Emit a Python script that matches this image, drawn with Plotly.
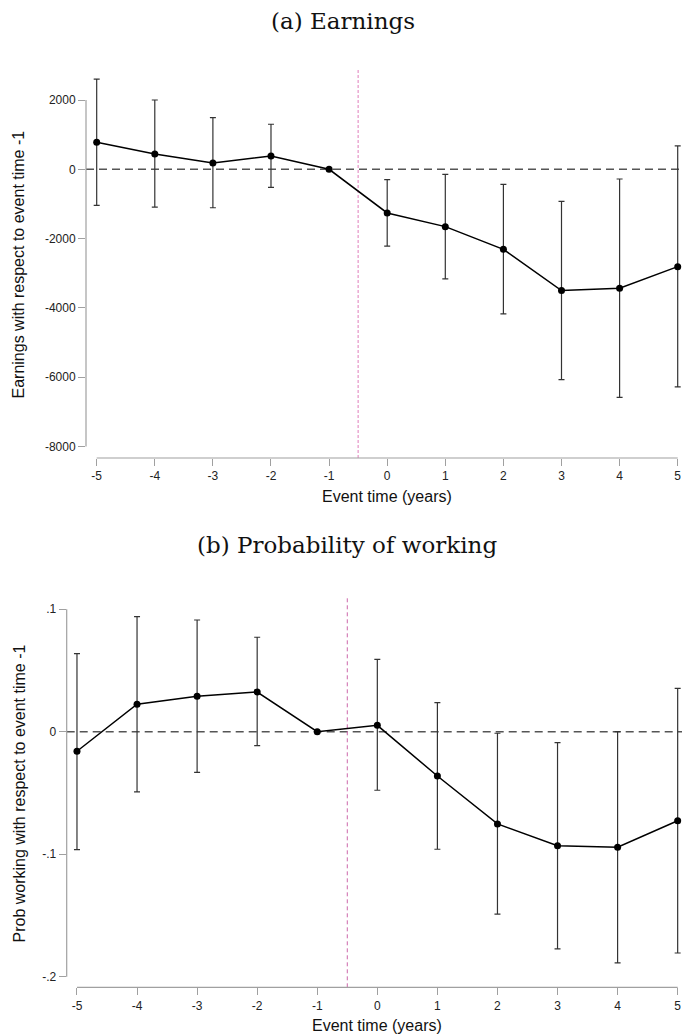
import plotly.graph_objects as go

# ---------------- data ----------------
event_time = [-5, -4, -3, -2, -1, 0, 1, 2, 3, 4, 5]

earn_coef = [780, 440, 180, 385, 0, -1260, -1655, -2310, -3500, -3435, -2810]
earn_hi = [2600, 2000, 1490, 1300, None, -300, -145, -435, -925, -280, 675]
earn_lo = [-1040, -1090, -1110, -520, None, -2215, -3165, -4175, -6070, -6580, -6280]

work_coef = [-0.016, 0.0224, 0.0289, 0.0324, 0.0, 0.0052, -0.0362, -0.0753, -0.0931, -0.0944, -0.0727]
work_hi = [0.0637, 0.0939, 0.0912, 0.0771, None, 0.0591, 0.0237, -0.0013, -0.009, 0.0, 0.0354]
work_lo = [-0.0963, -0.0492, -0.0332, -0.0114, None, -0.0478, -0.096, -0.149, -0.1774, -0.1888, -0.1807]

x_ticks = [-5, -4, -3, -2, -1, 0, 1, 2, 3, 4, 5]
x_ticktext = ["-5", "-4", "-3", "-2", "-1", "0", "1", "2", "3", "4", "5"]
earn_ticks = [-8000, -6000, -4000, -2000, 0, 2000]
earn_ticktext = ["-8000", "-6000", "-4000", "-2000", "0", "2000"]
work_ticks = [-0.2, -0.1, 0, 0.1]
work_ticktext = ["-.2", "-.1", "0", ".1"]

W, H = 682, 1035


def err(coef, hi, lo):
    plus = [None if h is None else h - c for c, h in zip(coef, hi)]
    minus = [None if l is None else c - l for c, l in zip(coef, lo)]
    return plus, minus


def px(x):
    return x / W


def py(y):
    return 1 - y / H


fig = go.Figure()

ep, em = err(earn_coef, earn_hi, earn_lo)
fig.add_trace(go.Scatter(
    x=event_time, y=earn_coef, mode="lines+markers",
    line=dict(color="black", width=1.5),
    marker=dict(color="black", size=7),
    error_y=dict(type="data", array=ep, arrayminus=em, symmetric=False,
                 color="#333333", thickness=1.2, width=3),
    xaxis="x", yaxis="y", showlegend=False, cliponaxis=False,
))

wp, wm = err(work_coef, work_hi, work_lo)
fig.add_trace(go.Scatter(
    x=event_time, y=work_coef, mode="lines+markers",
    line=dict(color="black", width=1.5),
    marker=dict(color="black", size=7),
    error_y=dict(type="data", array=wp, arrayminus=wm, symmetric=False,
                 color="#333333", thickness=1.2, width=3),
    xaxis="x2", yaxis="y2", showlegend=False, cliponaxis=False,
))

tickfont = dict(family="Liberation Sans, Arial, sans-serif", size=12, color="#222222")
axcommon = dict(showgrid=False, zeroline=False, showline=False, ticks="outside",
                ticklen=7, tickwidth=1, tickcolor="#a0a0a0", tickfont=tickfont)

fig.update_layout(
    width=W, height=H, margin=dict(l=0, r=0, t=0, b=0),
    paper_bgcolor="white", plot_bgcolor="white",
    xaxis=dict(domain=[px(86), 1], range=[-5.184, 5.074], anchor="y",
               tickvals=x_ticks, ticktext=x_ticktext, **axcommon),
    yaxis=dict(domain=[py(458), py(69.3)], range=[-8332, 2886], anchor="x",
               tickvals=earn_ticks, ticktext=earn_ticktext, **axcommon),
    xaxis2=dict(domain=[px(66.7), 1], range=[-5.171, 5.072], anchor="y2",
                tickvals=x_ticks, ticktext=x_ticktext, **axcommon),
    yaxis2=dict(domain=[py(987.3), py(598.3)], range=[-0.2087, 0.1089], anchor="x2",
                tickvals=work_ticks, ticktext=work_ticktext, **axcommon),
)

axis_col = "#a0a0a0"
shapes = [
    # panel a axis lines
    dict(type="line", xref="x domain", yref="y", x0=0, x1=0, y0=earn_ticks[0], y1=earn_ticks[-1],
         line=dict(color=axis_col, width=1.2)),
    dict(type="line", xref="x", yref="y domain", x0=x_ticks[0], x1=x_ticks[-1], y0=0, y1=0,
         line=dict(color=axis_col, width=1.2)),
    # panel a reference lines
    dict(type="line", xref="x domain", yref="y", x0=0, x1=1, y0=0, y1=0,
         line=dict(color="#555555", width=1.5, dash="8px,5px"), layer="below"),
    dict(type="line", xref="x", yref="y domain", x0=-0.5, x1=-0.5, y0=0, y1=1,
         line=dict(color="#e89ccb", width=1.3, dash="3px,2px"), layer="below"),
    # panel b axis lines
    dict(type="line", xref="x2 domain", yref="y2", x0=0, x1=0, y0=work_ticks[0], y1=work_ticks[-1],
         line=dict(color=axis_col, width=1.2)),
    dict(type="line", xref="x2", yref="y2 domain", x0=x_ticks[0], x1=x_ticks[-1], y0=0, y1=0,
         line=dict(color=axis_col, width=1.2)),
    # panel b reference lines
    dict(type="line", xref="x2 domain", yref="y2", x0=0, x1=1, y0=0, y1=0,
         line=dict(color="#555555", width=1.5, dash="8px,5px"), layer="below"),
    dict(type="line", xref="x2", yref="y2 domain", x0=-0.5, x1=-0.5, y0=0, y1=1,
         line=dict(color="#cc66aa", width=1, dash="4px,3px"), layer="below"),
]
fig.update_layout(shapes=shapes)

titlefont = dict(family="DejaVu Serif, serif", size=23, color="#111111")
labfont = dict(family="Liberation Sans, Arial, sans-serif", size=16, color="#111111")

annotations = [
    dict(text="(a) Earnings", x=px(343), y=py(21), font=titlefont),
    dict(text="(b) Probability of working", x=px(347), y=py(545), font=titlefont),
    dict(text="Event time (years)", x=px(387), y=py(496), font=labfont),
    dict(text="Event time (years)", x=px(377.5), y=py(1025), font=labfont),
    dict(text="Earnings with respect to event time -1", x=px(18), y=py(264.5),
         textangle=-90, font=labfont),
    dict(text="Prob working with respect to event time -1", x=px(18.5), y=py(794),
         textangle=-90, font=labfont),
]
for a in annotations:
    a.update(xref="paper", yref="paper", xanchor="center", yanchor="middle", showarrow=False)
fig.update_layout(annotations=annotations)

fig.write_html("out.html")
